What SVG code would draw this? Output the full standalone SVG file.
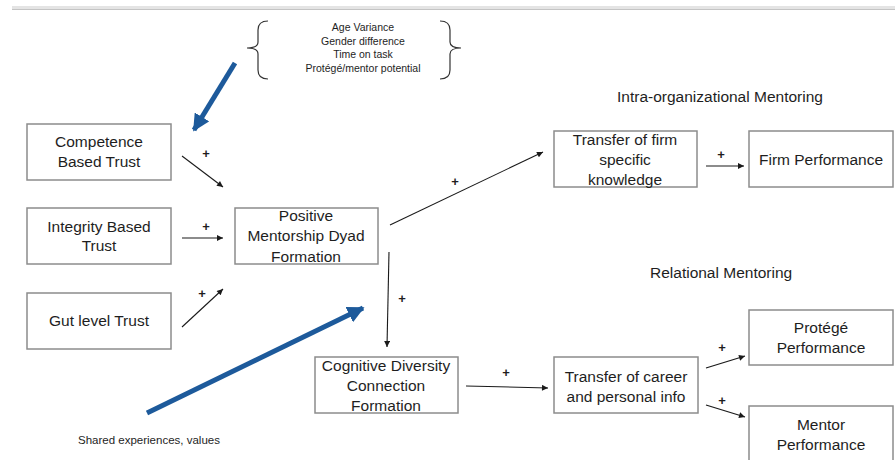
<svg xmlns="http://www.w3.org/2000/svg" width="895" height="460" viewBox="0 0 895 460">
<style>
.box{fill:#fff;stroke:#8c8c8c;stroke-width:1.5}
.t{font-family:"Liberation Sans",Arial,sans-serif;font-size:15.5px;fill:#1e1e1e;text-anchor:middle}
.s{font-family:"Liberation Sans",Arial,sans-serif;font-size:10.5px;fill:#1e1e1e;text-anchor:middle}
.h{font-family:"Liberation Sans",Arial,sans-serif;font-size:15.5px;fill:#1e1e1e}
.p{font-family:"Liberation Sans",Arial,sans-serif;font-size:13px;font-weight:bold;fill:#1e1e1e;text-anchor:middle}
.c{fill:none;stroke:#1a1a1a;stroke-width:1.1;marker-end:url(#ah)}
.b{fill:none;stroke:#1d5a9b;stroke-width:5;marker-end:url(#bh)}
.br{fill:none;stroke:#333;stroke-width:1.2}
</style>
<defs>
<marker id="ah" viewBox="0 0 10 10" refX="10" refY="5" markerWidth="7" markerHeight="6" markerUnits="userSpaceOnUse" orient="auto">
<path d="M0,0 L10,5 L0,10 z" fill="#1a1a1a"/>
</marker>
<marker id="bh" viewBox="0 0 10 10" refX="9" refY="5" markerWidth="17" markerHeight="17" markerUnits="userSpaceOnUse" orient="auto">
<path d="M0,0 L10,5 L0,10 z" fill="#1d5a9b"/>
</marker>
</defs>
<rect x="0" y="0" width="895" height="460" fill="#fff"/>
<rect x="12" y="6" width="883" height="3" fill="#e4e4e4"/>
<line x1="12" y1="9.5" x2="895" y2="9.5" stroke="#c4c4c4" stroke-width="1"/>

<g id="factors">
<path class="br" d="M268,21 Q258,21 258,30 L258,42 Q258,48 247,48 Q258,48 258,54 L258,70 Q258,79 268,79"/>
<path class="br" d="M440,21 Q450,21 450,30 L450,42 Q450,48 461,48 Q450,48 450,54 L450,70 Q450,79 440,79"/>
<text class="s" x="363" y="31">Age Variance</text>
<text class="s" x="363" y="45">Gender difference</text>
<text class="s" x="363" y="58">Time on task</text>
<text class="s" x="363" y="72">Protégé/mentor potential</text>
</g>

<g id="competence"><rect class="box" x="27" y="124" width="144" height="56"/>
<text class="t" x="99" y="147">Competence</text><text class="t" x="99" y="167">Based Trust</text></g>
<g id="integrity"><rect class="box" x="27" y="208" width="144" height="56"/>
<text class="t" x="99" y="232">Integrity Based</text><text class="t" x="99" y="251">Trust</text></g>
<g id="gut"><rect class="box" x="27" y="293" width="144" height="56"/>
<text class="t" x="99" y="326">Gut level Trust</text></g>
<g id="dyad"><rect class="box" x="235" y="208" width="143" height="56"/>
<text class="t" x="306" y="221">Positive</text><text class="t" x="306" y="241">Mentorship Dyad</text><text class="t" x="306" y="262">Formation</text></g>
<g id="firmtransfer"><rect class="box" x="554" y="131" width="143" height="56"/>
<text class="t" x="625" y="145">Transfer of firm</text><text class="t" x="625" y="165">specific</text><text class="t" x="625" y="185">knowledge</text></g>
<g id="firmperf"><rect class="box" x="749" y="131" width="144" height="56"/>
<text class="t" x="821" y="165">Firm Performance</text></g>
<g id="cognitive"><rect class="box" x="315" y="357" width="143" height="56"/>
<text class="t" x="386" y="371">Cognitive Diversity</text><text class="t" x="386" y="391">Connection</text><text class="t" x="386" y="411">Formation</text></g>
<g id="careertransfer"><rect class="box" x="554" y="357" width="144" height="56"/>
<text class="t" x="626" y="382">Transfer of career</text><text class="t" x="626" y="402">and personal info</text></g>
<g id="protege"><rect class="box" x="749" y="310" width="144" height="55"/>
<text class="t" x="821" y="333">Protégé</text><text class="t" x="821" y="353">Performance</text></g>
<g id="mentor"><rect class="box" x="749" y="406" width="144" height="60"/>
<text class="t" x="821" y="430">Mentor</text><text class="t" x="821" y="450">Performance</text></g>

<g id="labels">
<text class="h" x="617" y="102">Intra-organizational Mentoring</text>
<text class="h" x="650" y="278">Relational Mentoring</text>
<text class="h" x="78" y="444" style="font-size:11.5px">Shared experiences, values</text>
</g>

<g id="connectors">
<path class="c" d="M182,156 L223,187"/>
<path class="c" d="M182,238 L223,238"/>
<path class="c" d="M182,327 L223,289"/>
<path class="c" d="M390,225 L543,152"/>
<path class="c" d="M706,166 L744,166"/>
<path class="c" d="M389,252 L387,347"/>
<path class="c" d="M466,386 L548,388"/>
<path class="c" d="M706,368 L745,356"/>
<path class="c" d="M706,405 L745,417"/>
<path class="b" d="M235,63 L194,130"/>
<path class="b" d="M147,413 L363,308"/>
<text class="p" x="206" y="158">+</text>
<text class="p" x="206" y="231">+</text>
<text class="p" x="202" y="298">+</text>
<text class="p" x="455" y="186">+</text>
<text class="p" x="721" y="159">+</text>
<text class="p" x="402" y="303">+</text>
<text class="p" x="506" y="377">+</text>
<text class="p" x="722" y="352">+</text>
<text class="p" x="722" y="405">+</text>
</g>
</svg>
